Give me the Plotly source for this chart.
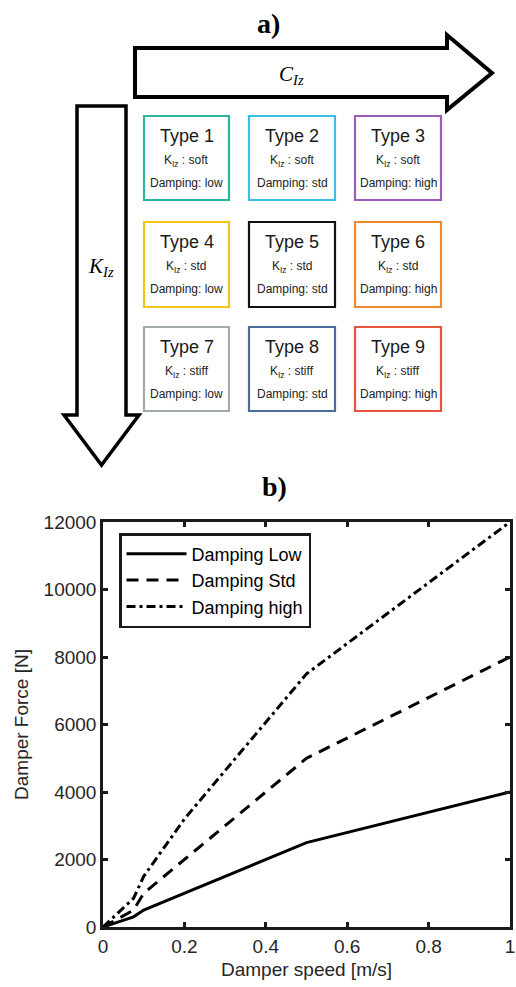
import plotly.graph_objects as go

W, H = 516, 987

# ---- data (panel b) ----
damper_speed = [0, 0.075, 0.1, 0.2, 0.5, 1.0]
force_low = [0, 300, 500, 1000, 2500, 4000]
force_std = [0, 500, 1000, 2000, 5000, 8000]
force_high = [0, 850, 1500, 3200, 7500, 12000]
series_names = ["Damping Low", "Damping Std", "Damping high"]
x_ticks = [0, 0.2, 0.4, 0.6, 0.8, 1]
y_ticks = [0, 2000, 4000, 6000, 8000, 10000, 12000]

# ---- panel a content ----
type_labels = ["Type 1", "Type 2", "Type 3", "Type 4", "Type 5", "Type 6", "Type 7", "Type 8", "Type 9"]
stiffness = ["soft", "soft", "soft", "std", "std", "std", "stiff", "stiff", "stiff"]
damping = ["low", "std", "high", "low", "std", "high", "low", "std", "high"]
box_colors = ["#2bb59a", "#3bbfe8", "#9b5cba", "#f2c619", "#111111", "#ee8a2c",
              "#a3abaa", "#4a6d9c", "#e6533e"]

def px(x):
    return x / W

def py(y):
    return 1 - y / H

FONT = "Liberation Sans, Arial, sans-serif"
SERIF = "Liberation Serif, Times New Roman, serif"

fig = go.Figure()
fig.add_trace(go.Scatter(x=damper_speed, y=force_low, mode="lines", name=series_names[0],
                         line=dict(color="black", width=3)))
fig.add_trace(go.Scatter(x=damper_speed, y=force_std, mode="lines", name=series_names[1],
                         line=dict(color="black", width=3, dash="12px,8px")))
fig.add_trace(go.Scatter(x=damper_speed, y=force_high, mode="lines", name=series_names[2],
                         line=dict(color="black", width=3, dash="9px,4px,3px,4px")))

shapes = []
annotations = []

def label(x, y, text, size, family=FONT, color="black"):
    annotations.append(dict(x=px(x), y=py(y), xref="paper", yref="paper", showarrow=False,
                            xanchor="center", yanchor="middle", text=text,
                            font=dict(family=family, size=size, color=color)))

# horizontal arrow (C_Iz)
shapes.append(dict(type="path", xref="paper", yref="paper",
                   path=("M{},{} L{},{} L{},{} L{},{} L{},{} L{},{} L{},{} Z".format(
                       px(135), py(48), px(447), py(48), px(447), py(35), px(492), py(73),
                       px(447), py(110), px(447), py(97), px(135), py(97))),
                   line=dict(color="black", width=4), fillcolor="white"))
# vertical arrow (K_Iz)
shapes.append(dict(type="path", xref="paper", yref="paper",
                   path=("M{},{} L{},{} L{},{} L{},{} L{},{} L{},{} L{},{} Z".format(
                       px(77), py(106), px(126), py(106), px(126), py(415), px(139), py(415),
                       px(101.5), py(465), px(64), py(415), px(77), py(415))),
                   line=dict(color="black", width=3.5), fillcolor="white"))

label(291, 75, "<i>C</i><sub><i>Iz</i></sub>", 21, SERIF)
label(101, 267, "<i>K</i><sub><i>Iz</i></sub>", 21, SERIF)

col_x = [(144, 229), (249, 335), (355, 441)]
row_y = [(116, 200), (222, 307), (327, 411)]
for i in range(9):
    r, c = divmod(i, 3)
    x0, x1 = col_x[c]
    y0, y1 = row_y[r]
    shapes.append(dict(type="rect", xref="paper", yref="paper",
                       x0=px(x0), x1=px(x1), y0=py(y1), y1=py(y0),
                       line=dict(color=box_colors[i], width=2.2), fillcolor="white"))
    xc = (x0 + x1) / 2
    label(xc, y0 + 20, type_labels[i], 18, FONT, "#1a1a1a")
    label(xc, y0 + 45, "K<sub>Iz</sub> : " + stiffness[i], 12, FONT, "#222222")
    label(xc, y0 + 67, "Damping: " + damping[i], 12, FONT, "#222222")

label(268, 23, "<b>a)</b>", 28, SERIF)
label(274, 486, "<b>b)</b>", 28, SERIF)

axis_common = dict(showline=True, linewidth=2.5, linecolor="#1a1a1a", mirror="ticks",
                   ticks="inside", ticklen=5, tickwidth=2.5, tickcolor="#1a1a1a",
                   showgrid=False, zeroline=False, ticklabeloverflow="allow",
                   automargin=False,
                   tickfont=dict(family=FONT, size=19, color="#262626"))

fig.update_layout(
    width=W, height=H,
    margin=dict(l=0, r=0, t=0, b=0, autoexpand=False),
    paper_bgcolor="white", plot_bgcolor="white",
    shapes=shapes, annotations=annotations,
    xaxis=dict(domain=[px(103), px(510)], range=[-1e-6, 1 + 1e-6], tickvals=x_ticks,
               ticktext=[("%g" % v) for v in x_ticks],
               title=dict(text="Damper speed [m/s]", standoff=8,
                          font=dict(family=FONT, size=19, color="#262626")),
               **axis_common),
    yaxis=dict(domain=[py(927), py(522)], range=[-1e-3, 12000.001], tickvals=y_ticks,
               ticktext=[str(v) for v in y_ticks],
               title=dict(text="Damper Force [N]", standoff=10,
                          font=dict(family=FONT, size=19, color="#262626")),
               **axis_common),
    legend=dict(x=px(119), y=py(533), xanchor="left", yanchor="top",
                bordercolor="#1a1a1a", borderwidth=2.5, bgcolor="white",
                font=dict(family=FONT, size=18, color="black"),
                itemwidth=60, tracegroupgap=0),
    showlegend=True,
)

fig.write_html("out.html")
